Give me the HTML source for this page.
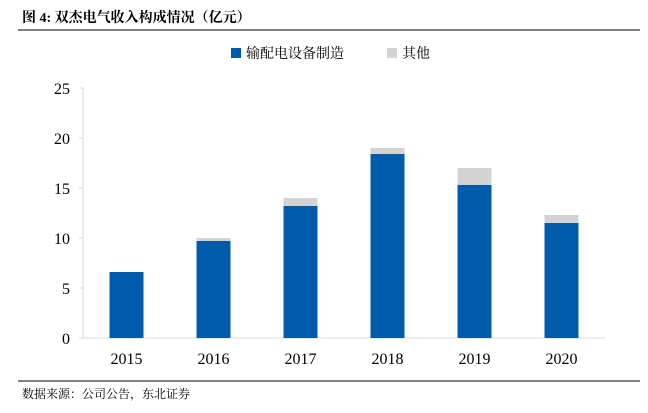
<!DOCTYPE html>
<html><head><meta charset="utf-8"><style>
body{margin:0;background:#fff;}
svg{display:block;font-family:"Liberation Serif","Noto Serif CJK SC",serif;}
</style></head><body>
<svg width="648" height="413">
<text x="22" y="22" font-size="14" font-weight="bold">图 4:  双杰电气收入构成情况（亿元）</text>
<line x1="18" y1="30" x2="640" y2="30" stroke="#000" stroke-width="1"/>
<g>
<rect x="231" y="48" width="10" height="10" fill="#005bac"/>
<text x="246" y="58" font-size="14">输配电设备制造</text>
<rect x="387" y="48" width="10" height="10" fill="#d3d3d3"/>
<text x="402" y="58" font-size="14">其他</text>
</g>
<g id="plot"></g>
<line x1="18" y1="381" x2="640" y2="381" stroke="#000" stroke-width="1"/>
<text x="22" y="398" font-size="12">数据来源：公司公告，东北证券</text>
</svg>
<script>
const categories=["2015","2016","2017","2018","2019","2020"];
const mainValues=[6.6,9.7,13.2,18.4,15.3,11.5];
const otherValues=[0,0.3,0.8,0.6,1.7,0.8];
const yTicks=[0,5,10,15,20,25];
const NS="http://www.w3.org/2000/svg";
const g=document.getElementById('plot');
const x0=83,x1=605,y0=338,yTop=88,yMax=25;
const band=(x1-x0)/categories.length;
const y=v=>y0-(v/yMax)*(y0-yTop);
const xc=i=>x0+band*(i+0.5);
function mk(t,a){const e=document.createElementNS(NS,t);for(const k in a)e.setAttribute(k,a[k]);g.appendChild(e);return e;}
let ax=mk('line',{x1:x0,y1:yTop,x2:x0,y2:y0,stroke:'#d9d9d9'});


let bx=mk('line',{x1:x0,y1:y0,x2:x1,y2:y0,stroke:'#d9d9d9'});


yTicks.forEach(v=>{
 let tk=mk('line',{x1:x0-4,y1:y(v),x2:x0,y2:y(v),stroke:'#d9d9d9'});
 
 
 let t=mk('text',{x:x0-13,y:y(v)+6,'font-size':16,'text-anchor':'end'});
 t.textContent=v;
 
 
});
const bw=34;
categories.forEach((c,i)=>{
 let r=mk('rect',{x:xc(i)-bw/2,y:y(mainValues[i]),width:bw,height:y0-y(mainValues[i]),fill:'#005bac'});
 
 
 const tot=mainValues[i]+otherValues[i];
 if(otherValues[i]>0){
  let o=mk('rect',{x:xc(i)-bw/2,y:y(tot),width:bw,height:y(mainValues[i])-y(tot),fill:'#d3d3d3'});
  
  
 }
 let t=mk('text',{x:xc(i),y:y0+26,'font-size':16,'text-anchor':'middle'});
 t.textContent=c;
 
 
});
</script>
</body></html>
